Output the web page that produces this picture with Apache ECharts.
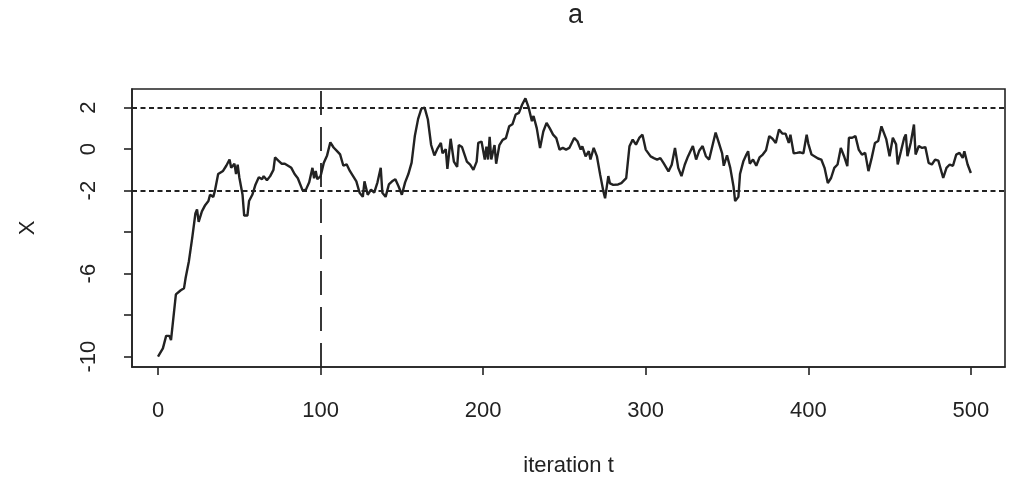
<!DOCTYPE html>
<html>
<head>
<meta charset="utf-8">
<script src="https://cdn.jsdelivr.net/npm/echarts@6/dist/echarts.min.js"></script>
<style>
html,body{margin:0;padding:0;background:#ffffff;}
#chart{width:1011px;height:487px;}
</style>
</head>
<body>
<div id="chart"></div>
<script>
const iterations = [0,3,5,7,8,11,14,16,17,19,21,23,24,25,27,29,31,32,34,35,37,40,42,44,45,47,48,49,50,52,53,55,56,58,60,62,64,65,67,69,71,72,74,76,78,80,82,84,86,89,91,93,95,96,97,98,100,102,104,105,106,108,110,112,114,116,118,120,122,124,126,127,129,131,133,135,137,138,140,142,144,146,148,150,152,154,156,158,160,162,164,166,168,170,172,174,175,177,178,180,182,184,185,187,190,192,194,196,197,199,201,202,203,204,205,207,208,210,212,214,216,218,220,222,224,226,228,230,231,233,235,237,239,241,243,245,247,249,251,253,256,258,260,261,263,265,266,268,270,272,274,275,277,278,280,283,285,288,290,292,294,296,298,300,301,303,305,307,309,311,314,316,318,320,322,324,326,329,331,333,335,337,339,341,343,345,347,348,350,352,354,355,356,357,358,359,360,362,363,364,366,368,370,372,374,376,378,380,382,384,386,388,389,390,391,393,395,397,399,400,402,404,406,408,410,412,414,416,418,420,422,424,425,427,429,431,433,435,437,439,441,443,445,448,450,452,454,455,457,459,460,461,463,465,466,468,470,472,474,476,478,480,483,485,487,489,491,493,495,496,498,500];
const xValues = [-10.0,-9.6,-9.0,-9.0,-9.2,-7.0,-6.8,-6.7,-6.2,-5.4,-4.3,-3.1,-2.9,-3.5,-3.0,-2.7,-2.5,-2.2,-2.3,-2.0,-1.2,-1.05,-0.8,-0.5,-0.9,-0.7,-1.2,-0.75,-1.35,-2.2,-3.2,-3.2,-2.5,-2.2,-1.7,-1.35,-1.45,-1.3,-1.5,-1.3,-1.0,-0.4,-0.55,-0.7,-0.7,-0.8,-0.9,-1.2,-1.4,-2.0,-1.95,-1.6,-0.9,-1.4,-1.05,-1.45,-1.3,-0.65,-0.3,-0.25,0.33,0.08,-0.08,-0.25,-0.8,-0.73,-1.05,-1.3,-1.55,-2.1,-2.3,-1.55,-2.2,-1.95,-2.1,-1.6,-0.9,-2.1,-2.3,-1.7,-1.55,-1.45,-1.8,-2.2,-1.6,-1.2,-0.65,0.65,1.46,1.95,2.0,1.43,0.2,-0.3,0.04,0.3,-0.2,0.0,-0.95,0.5,-0.6,-0.85,0.2,0.1,-0.6,-0.75,-1.0,-0.6,0.3,0.37,-0.5,0.12,-0.5,0.6,-0.5,0.2,-0.7,0.2,0.45,0.53,1.1,1.2,1.67,1.75,2.15,2.45,2.0,1.35,1.6,1.0,0.05,0.85,1.27,1.0,0.7,0.53,-0.02,0.06,-0.02,0.06,0.54,0.38,-0.02,0.14,-0.35,-0.1,-0.5,0.06,-0.35,-1.24,-2.05,-2.37,-1.3,-1.65,-1.72,-1.7,-1.64,-1.4,0.14,0.46,0.22,0.54,0.7,-0.02,-0.02,-0.35,-0.43,-0.5,-0.43,-0.67,-1.07,-0.75,0.06,-0.9,-1.3,-0.75,-0.35,0.15,-0.5,-0.06,0.15,-0.34,-0.5,0.15,0.8,0.3,-0.2,-0.8,-0.3,-0.9,-1.8,-2.5,-2.44,-2.3,-1.2,-1.15,-0.6,-0.25,-0.1,-0.7,-0.5,-0.8,-0.4,-0.26,-0.05,0.63,0.5,0.3,0.95,0.75,0.75,0.3,0.7,0.7,-0.2,-0.18,-0.15,-0.2,0.7,0.27,-0.26,-0.35,-0.45,-0.5,-0.9,-1.63,-1.39,-0.9,-0.74,0.06,-0.34,-0.82,0.55,0.55,0.63,-0.02,-0.26,-0.18,-1.06,-0.42,0.3,0.39,1.1,0.47,-0.34,0.55,0.23,-0.74,-0.1,0.55,0.71,-0.34,0.3,1.19,-0.26,0.15,0.06,0.1,-0.66,-0.74,-0.5,-0.55,-1.39,-0.9,-0.74,-0.8,-0.26,-0.18,-0.42,-0.1,-0.74,-1.15];
const xTicks = [0,100,200,300,400,500];
const yTicks = [-10,-8,-6,-4,-2,0,2];
const yLabels = [-10,-6,-2,0,2];
const bandLimits = [-2, 2];
const burnIn = 100;
const titleText = 'a';
const xTitle = 'iteration t';
const yTitle = 'X';

const seriesData = iterations.map((t, i) => [t, xValues[i]]);
const ink = '#222222';
const fontFamily = '"Liberation Sans", Arial, sans-serif';

const chart = echarts.init(document.getElementById('chart'), null, {renderer: 'canvas'});
chart.setOption({
  backgroundColor: '#ffffff',
  animation: false,
  graphic: [{
    type: 'text',
    left: 568,
    top: 2,
    style: {text: titleText, fill: ink, font: '27px ' + fontFamily, textAlign: 'center'}
  }],
  grid: {
    left: 132, right: 6, top: 89, bottom: 120,
    show: true, borderColor: ink, borderWidth: 1.6, backgroundColor: 'transparent'
  },
  xAxis: {
    type: 'value', min: -16, max: 521,
    name: xTitle, nameLocation: 'middle', nameGap: 88,
    nameTextStyle: {color: ink, fontSize: 22, fontFamily: fontFamily},
    axisLine: {show: true, onZero: false, lineStyle: {color: ink, width: 1.6}},
    axisTick: {show: true, customValues: xTicks, length: 8, lineStyle: {color: ink, width: 1.6}},
    axisLabel: {customValues: xTicks, margin: 33, color: ink, fontSize: 22, fontFamily: fontFamily},
    splitLine: {show: false}
  },
  yAxis: {
    type: 'value', min: -10.5, max: 2.9,
    name: yTitle, nameLocation: 'middle', nameGap: 93, nameRotate: 90,
    nameTextStyle: {color: ink, fontSize: 22, fontFamily: fontFamily},
    axisLine: {show: true, onZero: false, lineStyle: {color: ink, width: 1.6}},
    axisTick: {show: true, customValues: yTicks, length: 8, lineStyle: {color: ink, width: 1.6}},
    axisLabel: {customValues: yLabels, rotate: 90, margin: 32, color: ink, fontSize: 22, fontFamily: fontFamily},
    splitLine: {show: false}
  },
  series: [{
    type: 'line',
    data: seriesData,
    showSymbol: false,
    symbol: 'none',
    lineStyle: {color: ink, width: 2.4},
    markLine: {
      silent: true,
      symbol: ['none', 'none'],
      label: {show: false},
      data: [
        {yAxis: bandLimits[0], lineStyle: {color: ink, width: 2, type: [5, 3.5]}},
        {yAxis: bandLimits[1], lineStyle: {color: ink, width: 2, type: [5, 3.5]}},
        {xAxis: burnIn, lineStyle: {color: ink, width: 1.8, type: [24, 12]}}
      ]
    }
  }]
});
</script>
</body>
</html>
